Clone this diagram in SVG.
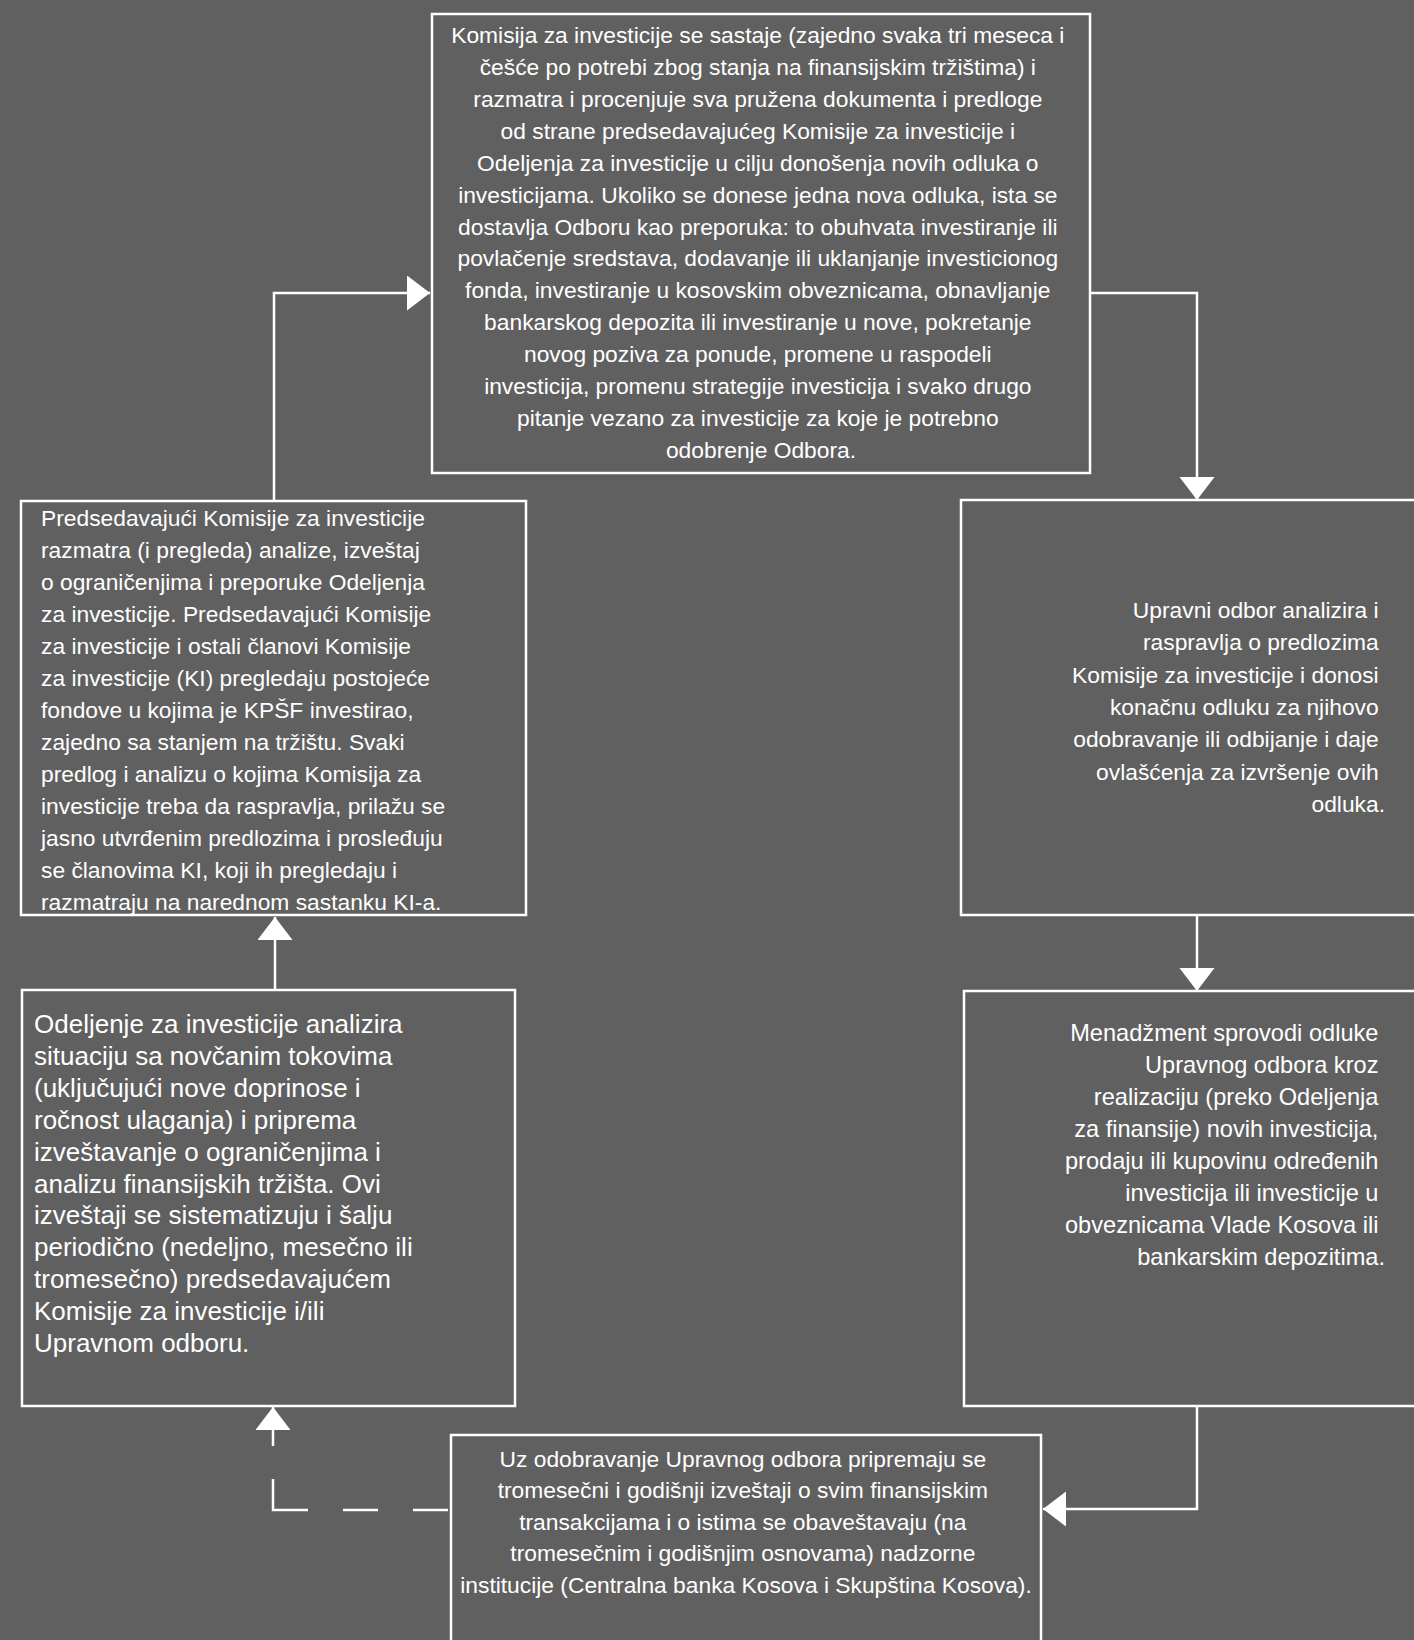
<svg xmlns="http://www.w3.org/2000/svg" width="1414" height="1640" viewBox="0 0 1414 1640">
<style>
.bg{fill:#606060}
.box{fill:#606060;stroke:#ffffff;stroke-width:2.5}
.t{font-family:"Liberation Sans",Arial,sans-serif;fill:#ffffff;font-size:22.8px}
.c{text-anchor:middle}
.r{text-anchor:end}
.big{font-size:26px}
.mid{font-size:23.6px}
.conn{fill:none;stroke:#ffffff;stroke-width:2.5}
.dash{stroke-dasharray:35 35 35 35 66 33 60 10}
</style>
<defs>
<marker id="arr" markerUnits="userSpaceOnUse" markerWidth="24" markerHeight="36" refX="23" refY="17.5" orient="auto" viewBox="0 0 24 36">
<path d="M0,0 L23,17.5 L0,35 z" fill="#ffffff"/>
</marker>
</defs>
<rect class="bg" x="0" y="0" width="1414" height="1640"/>

<g id="connectors">
<path class="conn" d="M274,501 V293 H430" marker-end="url(#arr)"/>
<path class="conn" d="M1090,293 H1197 V500" marker-end="url(#arr)"/>
<path class="conn" d="M1197,915 V991" marker-end="url(#arr)"/>
<path class="conn" d="M1197,1406 V1509 H1043" marker-end="url(#arr)"/>
<path class="conn dash" d="M448,1510 H273 V1407" marker-end="url(#arr)"/>
<path class="conn" d="M275,990 V917" marker-end="url(#arr)"/>
</g>

<g id="node-komisija">
<rect class="box" x="432" y="14" width="658" height="459"/>
<text class="t c">
<tspan x="761" y="43">Komisija za investicije se sastaje (zajedno svaka tri meseca i</tspan>
<tspan x="761" y="75">češće po potrebi zbog stanja na finansijskim tržištima) i</tspan>
<tspan x="761" y="107">razmatra i procenjuje sva pružena dokumenta i predloge</tspan>
<tspan x="761" y="139">od strane predsedavajućeg Komisije za investicije i</tspan>
<tspan x="761" y="171">Odeljenja za investicije u cilju donošenja novih odluka o</tspan>
<tspan x="761" y="203">investicijama. Ukoliko se donese jedna nova odluka, ista se</tspan>
<tspan x="761" y="235">dostavlja Odboru kao preporuka: to obuhvata investiranje ili</tspan>
<tspan x="761" y="266">povlačenje sredstava, dodavanje ili uklanjanje investicionog</tspan>
<tspan x="761" y="298">fonda, investiranje u kosovskim obveznicama, obnavljanje</tspan>
<tspan x="761" y="330">bankarskog depozita ili investiranje u nove, pokretanje</tspan>
<tspan x="761" y="362">novog poziva za ponude, promene u raspodeli</tspan>
<tspan x="761" y="394">investicija, promenu strategije investicija i svako drugo</tspan>
<tspan x="761" y="426">pitanje vezano za investicije za koje je potrebno</tspan>
<tspan x="761" y="458">odobrenje Odbora.</tspan>
</text>
</g>

<g id="node-predsedavajuci">
<rect class="box" x="21" y="501" width="505" height="414"/>
<text class="t">
<tspan x="41" y="526">Predsedavajući Komisije za investicije</tspan>
<tspan x="41" y="558">razmatra (i pregleda) analize, izveštaj</tspan>
<tspan x="41" y="590">o ograničenjima i preporuke Odeljenja</tspan>
<tspan x="41" y="622">za investicije. Predsedavajući Komisije</tspan>
<tspan x="41" y="654">za investicije i ostali članovi Komisije</tspan>
<tspan x="41" y="686">za investicije (KI) pregledaju postojeće</tspan>
<tspan x="41" y="718">fondove u kojima je KPŠF investirao,</tspan>
<tspan x="41" y="750">zajedno sa stanjem na tržištu. Svaki</tspan>
<tspan x="41" y="782">predlog i analizu o kojima Komisija za</tspan>
<tspan x="41" y="814">investicije treba da raspravlja, prilažu se</tspan>
<tspan x="41" y="846">jasno utvrđenim predlozima i prosleđuju</tspan>
<tspan x="41" y="878">se članovima KI, koji ih pregledaju i</tspan>
<tspan x="41" y="910">razmatraju na narednom sastanku KI-a.</tspan>
</text>
</g>

<g id="node-upravni-odbor">
<rect class="box" x="961" y="500" width="470" height="415"/>
<text class="t r">
<tspan x="1385" y="618">Upravni odbor analizira i</tspan>
<tspan x="1385" y="650">raspravlja o predlozima</tspan>
<tspan x="1385" y="683">Komisije za investicije i donosi</tspan>
<tspan x="1385" y="715">konačnu odluku za njihovo</tspan>
<tspan x="1385" y="747">odobravanje ili odbijanje i daje</tspan>
<tspan x="1385" y="780">ovlašćenja za izvršenje ovih</tspan>
<tspan x="1385" y="812">odluka.</tspan>
</text>
</g>

<g id="node-odeljenje">
<rect class="box" x="22" y="990" width="493" height="416"/>
<text class="t big">
<tspan x="34" y="1033">Odeljenje za investicije analizira</tspan>
<tspan x="34" y="1065">situaciju sa novčanim tokovima</tspan>
<tspan x="34" y="1097">(uključujući nove doprinose i</tspan>
<tspan x="34" y="1129">ročnost ulaganja) i priprema</tspan>
<tspan x="34" y="1161">izveštavanje o ograničenjima i</tspan>
<tspan x="34" y="1193">analizu finansijskih tržišta. Ovi</tspan>
<tspan x="34" y="1224">izveštaji se sistematizuju i šalju</tspan>
<tspan x="34" y="1256">periodično (nedeljno, mesečno ili</tspan>
<tspan x="34" y="1288">tromesečno) predsedavajućem</tspan>
<tspan x="34" y="1320">Komisije za investicije i/ili</tspan>
<tspan x="34" y="1352">Upravnom odboru.</tspan>
</text>
</g>

<g id="node-menadzment">
<rect class="box" x="964" y="991" width="470" height="415"/>
<text class="t r mid">
<tspan x="1385" y="1041">Menadžment sprovodi odluke</tspan>
<tspan x="1385" y="1073">Upravnog odbora kroz</tspan>
<tspan x="1385" y="1105">realizaciju (preko Odeljenja</tspan>
<tspan x="1385" y="1137">za finansije) novih investicija,</tspan>
<tspan x="1385" y="1169">prodaju ili kupovinu određenih</tspan>
<tspan x="1385" y="1201">investicija ili investicije u</tspan>
<tspan x="1385" y="1233">obveznicama Vlade Kosova ili</tspan>
<tspan x="1385" y="1265">bankarskim depozitima.</tspan>
</text>
</g>

<g id="node-izvestaji">
<rect class="box" x="451" y="1435" width="590" height="230"/>
<text class="t c">
<tspan x="746" y="1467">Uz odobravanje Upravnog odbora pripremaju se</tspan>
<tspan x="746" y="1498">tromesečni i godišnji izveštaji o svim finansijskim</tspan>
<tspan x="746" y="1530">transakcijama i o istima se obaveštavaju (na</tspan>
<tspan x="746" y="1561">tromesečnim i godišnjim osnovama) nadzorne</tspan>
<tspan x="746" y="1593">institucije (Centralna banka Kosova i Skupština Kosova).</tspan>
</text>
</g>
</svg>
